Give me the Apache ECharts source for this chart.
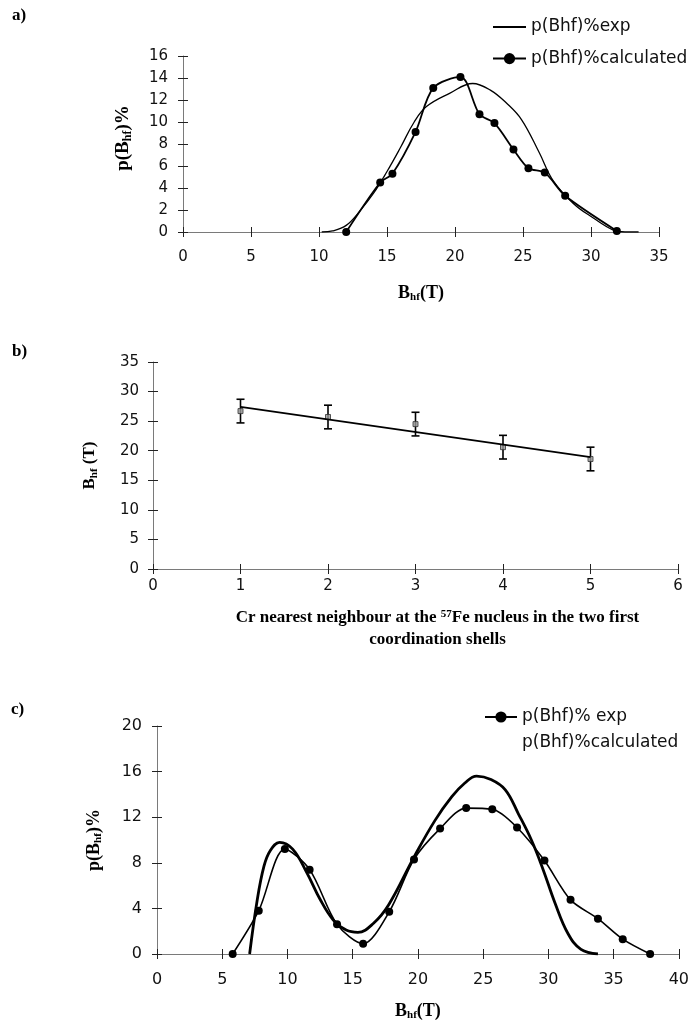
<!DOCTYPE html>
<html>
<head>
<meta charset="utf-8">
<script src="https://cdn.jsdelivr.net/npm/echarts@6/dist/echarts.min.js"></script>
<style>
html,body{margin:0;padding:0;background:#fff;}
#chart{width:692px;height:1025px;}
</style>
</head>
<body>
<div id="chart"></div>
<script>
// ---------- Panel a ----------
var aExp = [[10.2,0],[11,0.1],[12,0.6],[13,1.9],[14,3.5],[15,5.5],[16,7.7],[17,10.0],[17.9,11.4],[19.6,12.6],[21.3,13.5],[22.6,12.9],[23.8,11.7],[24.9,10.2],[26.2,7.2],[27.2,4.7],[28.7,2.6],[30.2,1.25],[31.6,0.2],[32.5,0],[33.5,0]];
var aCalcX = [12,14.5,15.4,17.1,18.4,20.4,21.8,22.9,24.3,25.4,26.6,28.1,31.9];
var aCalcY = [0,4.5,5.3,9.1,13.1,14.1,10.7,9.9,7.5,5.8,5.4,3.3,0.1];
var aXTicks = {min:0, max:35, interval:5};
var aYTicks = {min:0, max:16, interval:2};
var aNames = ['p(Bhf)%exp','p(Bhf)%calculated'];

// ---------- Panel b ----------
var bX = [1,2,3,4,5];
var bMean = [26.7,25.7,24.5,20.6,18.6];
var bErr = [2.0,2.0,2.0,2.0,2.0];
var bTrend = [[1,27.4],[5,18.9]];
var bXTicks = {min:0, max:6, interval:1};
var bYTicks = {min:0, max:35, interval:5};

// ---------- Panel c ----------
var cExpX = [5.8,7.8,9.8,11.7,13.8,15.8,17.8,19.7,21.7,23.7,25.7,27.6,29.7,31.7,33.8,35.7,37.8];
var cExpY = [0,3.8,9.2,7.4,2.6,0.9,3.7,8.3,11.0,12.8,12.7,11.1,8.2,4.75,3.1,1.3,0];
var cCalc = [[7.1,0],[7.65,4.5],[8.2,7.7],[8.7,9.1],[9.4,9.8],[10.4,9.2],[11.5,7.1],[12.5,4.8],[13.5,3.0],[14.5,2.1],[15.4,1.9],[16.6,2.7],[17.75,4.3],[19.7,8.5],[21.3,11.7],[22.6,13.8],[23.6,15.0],[24.5,15.6],[25.6,15.3],[26.7,14.4],[27.7,12.3],[28.7,10.0],[29.6,7.4],[30.5,4.5],[31.5,1.8],[32.5,0.4],[33.8,0]];
var cXTicks = {min:0, max:40, interval:5};
var cYTicks = {min:0, max:20, interval:4};
var cNames = ['p(Bhf)% exp','p(Bhf)%calculated'];

function zip(xs, ys){ return xs.map(function(x,i){return [x, ys[i]];}); }

var SANS = 'DejaVu Sans';
var SERIF = 'Liberation Serif';
var AXIS_LINE = '#7a7a7a';
var TICK = '#222';

function rich(F){
  var s = Math.round(F*0.62);
  return {
    b: {fontFamily: SERIF, fontWeight: 'bold', fontSize: F, color: '#000', lineHeight: F+5},
    s: {fontFamily: SERIF, fontWeight: 'bold', fontSize: s, color: '#000', lineHeight: s, padding: [Math.round(F*0.45),0,0,0]},
    u: {fontFamily: SERIF, fontWeight: 'bold', fontSize: s, color: '#000', lineHeight: s, padding: [0,0,Math.round(F*0.45),0]}
  };
}

function mainX(grid, t, name, gap, margin, F, fs, pad){
  return {
    type: 'value', gridIndex: grid, min: t.min, max: t.max, interval: t.interval,
    splitLine: {show: false},
    axisLine: {show: true, onZero: false, lineStyle: {color: AXIS_LINE, width: 1}},
    axisTick: {show: true, inside: false, length: 5, lineStyle: {color: TICK}},
    axisLabel: {fontFamily: SANS, fontSize: fs, color: '#111', margin: margin},
    name: name, nameLocation: 'middle', nameGap: gap,
    nameTextStyle: {rich: rich(F), padding: pad || 0}
  };
}
function mainY(grid, t, name, gap, margin, F, fs, pad){
  return {
    type: 'value', gridIndex: grid, min: t.min, max: t.max, interval: t.interval,
    splitLine: {show: false},
    axisLine: {show: true, onZero: false, lineStyle: {color: AXIS_LINE, width: 1}},
    axisTick: {show: true, inside: false, length: 5, lineStyle: {color: TICK}},
    axisLabel: {fontFamily: SANS, fontSize: fs, color: '#111', margin: margin},
    name: name, nameLocation: 'middle', nameGap: gap, nameRotate: 90,
    nameTextStyle: {rich: rich(F), padding: pad || 0}
  };
}
function innerX(grid, t){
  return {type: 'value', gridIndex: grid, min: t.min, max: t.max, interval: t.interval, position: 'bottom',
    splitLine: {show: false}, axisLine: {show: false}, axisLabel: {show: false},
    axisTick: {show: true, inside: true, length: 5, lineStyle: {color: TICK}}};
}
function innerY(grid, t){
  return {type: 'value', gridIndex: grid, min: t.min, max: t.max, interval: t.interval, position: 'left',
    splitLine: {show: false}, axisLine: {show: false}, axisLabel: {show: false},
    axisTick: {show: true, inside: true, length: 5, lineStyle: {color: TICK}}};
}

var option = {
  animation: false,
  backgroundColor: '#fff',
  grid: [
    {left: 183, top: 56, width: 476, height: 176},
    {left: 153, top: 362, width: 525, height: 207},
    {left: 157, top: 726, width: 522, height: 228}
  ],
  xAxis: [
    mainX(0, aXTicks, '{b|B}{s|hf}{b|(T)}', 50, 18, 18, 15),
    mainX(1, bXTicks, '{b|Cr nearest neighbour at the }{u|57}{b|Fe nucleus in the two first}\n{b|coordination shells}', 38, 10, 17, 15, [0,0,0,44]),
    mainX(2, cXTicks, '{b|B}{s|hf}{b|(T)}', 46, 18, 18, 16),
    innerX(0, aXTicks), innerX(1, bXTicks), innerX(2, cXTicks)
  ],
  yAxis: [
    mainY(0, aYTicks, '{b|p(B}{s|hf}{b|)%}', 48, 15, 19, 15, [0,0,0,12]),
    mainY(1, bYTicks, '{b|B}{s|hf}{b| (T)}', 52, 14, 17, 15),
    mainY(2, cYTicks, '{b|p(B}{s|hf}{b|)%}', 51, 15, 18, 16),
    innerY(0, aYTicks), innerY(1, bYTicks), innerY(2, cYTicks)
  ],
  legend: [
    {left: 492, top: 17, orient: 'vertical', padding: 0, itemWidth: 33, itemHeight: 14, itemGap: 11.6,
     textStyle: {fontFamily: SANS, fontSize: 17, color: '#111', lineHeight: 20},
     data: [{name: aNames[0], itemStyle: {opacity: 0}}, aNames[1]]},
    {left: 484, top: 707, orient: 'vertical', padding: 0, itemWidth: 32, itemHeight: 14, itemGap: 6,
     textStyle: {fontFamily: SANS, fontSize: 17, color: '#111', lineHeight: 20},
     data: [cNames[0], {name: cNames[1], icon: 'none'}]}
  ],
  graphic: [
    {type: 'text', left: 12, top: 7, style: {text: 'a)', fontFamily: SERIF, fontWeight: 'bold', fontSize: 17, fill: '#000'}},
    {type: 'text', left: 12, top: 343, style: {text: 'b)', fontFamily: SERIF, fontWeight: 'bold', fontSize: 17, fill: '#000'}},
    {type: 'text', left: 11, top: 701, style: {text: 'c)', fontFamily: SERIF, fontWeight: 'bold', fontSize: 17, fill: '#000'}}
  ],
  series: [
    {name: aNames[0], type: 'line', xAxisIndex: 0, yAxisIndex: 0, data: aExp, smooth: 0.4,
     symbol: 'none', lineStyle: {color: '#000', width: 1.3}, itemStyle: {color: '#000'}},
    {name: aNames[1], type: 'line', xAxisIndex: 0, yAxisIndex: 0, data: zip(aCalcX, aCalcY), smooth: 0.3,
     symbol: 'circle', symbolSize: 8, lineStyle: {color: '#000', width: 1.8}, itemStyle: {color: '#000'}},

    {name: 'trend', type: 'line', xAxisIndex: 1, yAxisIndex: 1, data: bTrend, symbol: 'none',
     lineStyle: {color: '#000', width: 1.8}},
    {name: 'error', type: 'custom', xAxisIndex: 1, yAxisIndex: 1,
     data: bX.map(function(x,i){return [x, bMean[i]-bErr[i], bMean[i]+bErr[i]];}),
     renderItem: function(params, api){
       var x = api.value(0);
       var lo = api.coord([x, api.value(1)]);
       var hi = api.coord([x, api.value(2)]);
       var w = 4, st = {stroke: '#000', lineWidth: 1.6};
       return {type: 'group', children: [
         {type: 'line', shape: {x1: lo[0], y1: lo[1], x2: hi[0], y2: hi[1]}, style: st},
         {type: 'line', shape: {x1: lo[0]-w, y1: lo[1], x2: lo[0]+w, y2: lo[1]}, style: st},
         {type: 'line', shape: {x1: hi[0]-w, y1: hi[1], x2: hi[0]+w, y2: hi[1]}, style: st}
       ]};
     }},
    {name: 'mean', type: 'scatter', xAxisIndex: 1, yAxisIndex: 1, data: zip(bX, bMean),
     symbol: 'rect', symbolSize: 5, itemStyle: {color: '#9a9a9a', borderColor: '#333', borderWidth: 1}},

    {name: cNames[0], type: 'line', xAxisIndex: 2, yAxisIndex: 2, data: zip(cExpX, cExpY), smooth: 0.3,
     symbol: 'circle', symbolSize: 8, lineStyle: {color: '#000', width: 1.6}, itemStyle: {color: '#000'}},
    {name: cNames[1], type: 'line', xAxisIndex: 2, yAxisIndex: 2, data: cCalc, smooth: 0.4,
     symbol: 'none', lineStyle: {color: '#000', width: 2.8}, itemStyle: {color: '#000'}}
  ]
};

var chart = echarts.init(document.getElementById('chart'), null, {renderer: 'canvas'});
chart.setOption(option);
</script>
</body>
</html>
